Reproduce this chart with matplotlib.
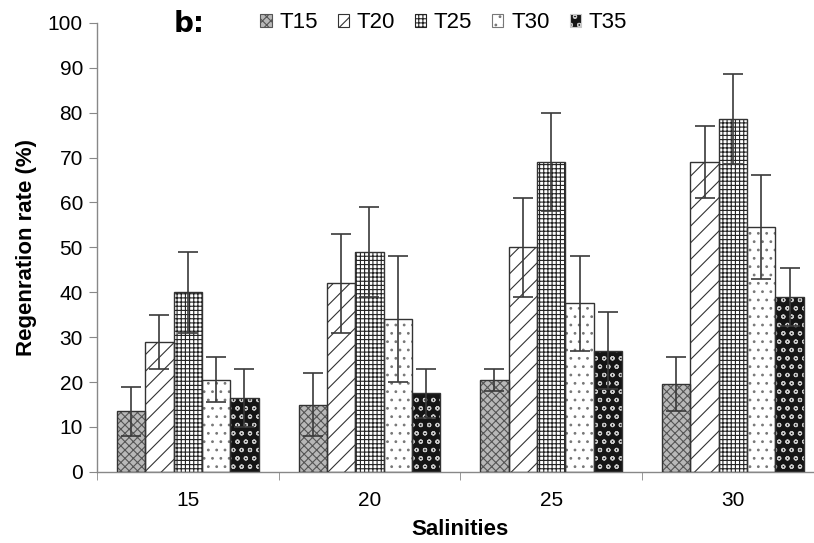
import matplotlib
matplotlib.use("Agg")
import matplotlib.pyplot as plt
from matplotlib.patches import Patch
import numpy as np

salinities = ["15", "20", "25", "30"]
treatments = ["T15", "T20", "T25", "T30", "T35"]

# mean regeneration rate (%) per treatment, one value per salinity
t15 = [13.5, 15.0, 20.5, 19.5]
t20 = [29.0, 42.0, 50.0, 69.0]
t25 = [40.0, 49.0, 69.0, 78.5]
t30 = [20.5, 34.0, 37.5, 54.5]
t35 = [16.5, 17.5, 27.0, 39.0]

# error bar half-widths
e15 = [5.5, 7.0, 2.5, 6.0]
e20 = [6.0, 11.0, 11.0, 8.0]
e25 = [9.0, 10.0, 11.0, 10.0]
e30 = [5.0, 14.0, 10.5, 11.5]
e35 = [6.5, 5.5, 8.5, 6.5]

means = [t15, t20, t25, t30, t35]
errs = [e15, e20, e25, e30, e35]

# fill colour, hatch, hatch colour for each treatment
styles = [
    ("#b8b8b8", "xxxx", "#555555"),
    ("white", "//", "#333333"),
    ("white", "++++", "#222222"),
    ("white", "..", "#777777"),
    ("#151515", "oo", "#c8c8c8"),
]

plt.rcParams["font.family"] = ["Liberation Sans Narrow", "Liberation Sans", "DejaVu Sans"]
plt.rcParams["hatch.linewidth"] = 0.8

fig = plt.figure(figsize=(8.14, 5.43), dpi=100)
ax = fig.add_axes([0.119, 0.131, 0.893, 0.827])

x = np.arange(len(salinities))
w = 0.156
for i, (m, e, st) in enumerate(zip(means, errs, styles)):
    pos = x + (i - 2) * w
    fc, hatch, hc = st
    # hatched fill, then outline on top
    ax.bar(pos, m, w, color=fc, hatch=hatch, edgecolor=hc, linewidth=0, zorder=2)
    ax.bar(pos, m, w, fill=False, edgecolor="#333333", linewidth=1.0, zorder=3)
    ax.errorbar(pos, m, yerr=e, fmt="none", ecolor="#3a3a3a", elinewidth=1.2,
                capsize=7, capthick=1.2, zorder=4)

ax.set_xlim(-0.5, 3.5)
ax.set_ylim(0, 100)
ax.set_yticks(range(0, 101, 10))
ax.set_xticks(x)
ax.set_xticklabels(salinities)
ax.set_xticks([-0.5, 0.5, 1.5, 2.5], minor=True)
ax.tick_params(axis="x", which="major", length=0, pad=14, labelsize=15)
ax.tick_params(axis="x", which="minor", length=6, color="#888888")
ax.tick_params(axis="y", length=6, color="#888888", labelsize=15, pad=4)

for side in ["top", "right"]:
    ax.spines[side].set_visible(False)
for side in ["left", "bottom"]:
    ax.spines[side].set_color("#888888")
    ax.spines[side].set_linewidth(1.0)

ax.set_xlabel("Salinities", fontsize=16, fontweight="bold", labelpad=6)
ax.set_ylabel("Regenration rate (%)", fontsize=16, fontweight="bold", labelpad=8)

handles = [Patch(facecolor=fc, hatch=hatch, edgecolor=hc, linewidth=0.8)
           for fc, hatch, hc in styles]
fig.legend(handles, treatments, loc="center", bbox_to_anchor=(0.545, 0.958), ncol=5,
           frameon=False, fontsize=16, handlelength=0.5, handleheight=0.5,
           handletextpad=0.35, columnspacing=0.9)

fig.text(0.213, 0.955, "b:", fontsize=20, fontweight="bold", ha="left", va="center",
         family=["DejaVu Sans"])

fig.savefig("out.png", dpi=100)
